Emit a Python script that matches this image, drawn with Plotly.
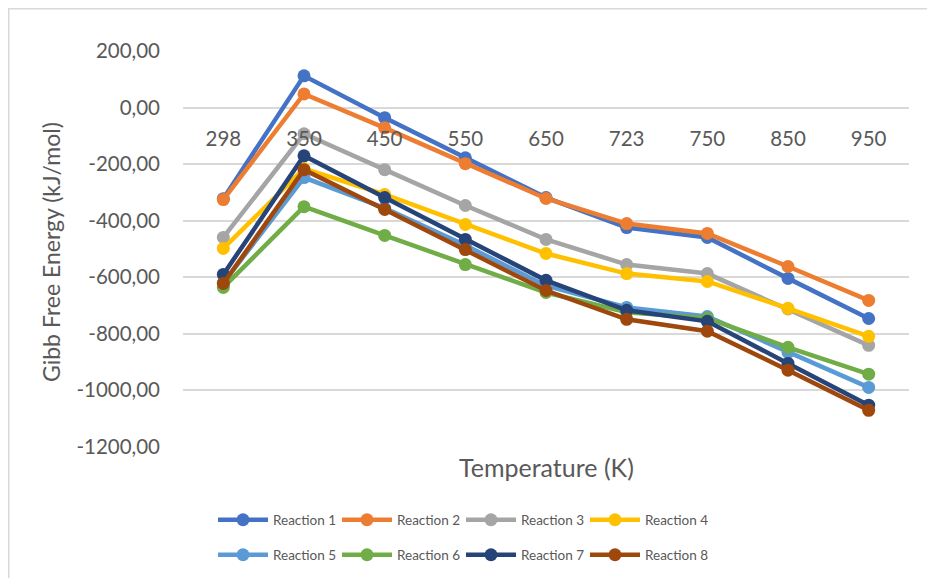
import plotly.graph_objects as go

temperatures = ["298", "350", "450", "550", "650", "723", "750", "850", "950"]

reaction_1 = [-322, 113, -35, -177, -318, -424, -459, -604, -746]
reaction_2 = [-325, 49, -71, -198, -321, -410, -445, -562, -682]
reaction_3 = [-459, -92, -219, -346, -466, -555, -587, -712, -841]
reaction_4 = [-498, -215, -307, -413, -516, -587, -615, -710, -809]
reaction_5 = [-620, -247, -355, -487, -630, -707, -739, -866, -990]
reaction_6 = [-636, -350, -452, -555, -654, -724, -745, -848, -943]
reaction_7 = [-590, -170, -318, -466, -611, -717, -756, -905, -1053]
reaction_8 = [-622, -219, -360, -502, -647, -749, -791, -929, -1071]

series_names = ["Reaction 1", "Reaction 2", "Reaction 3", "Reaction 4",
                "Reaction 5", "Reaction 6", "Reaction 7", "Reaction 8"]
series_values = [reaction_1, reaction_2, reaction_3, reaction_4,
                 reaction_5, reaction_6, reaction_7, reaction_8]
colors = ["#4472C4", "#ED7D31", "#A5A5A5", "#FFC000",
          "#5B9BD5", "#70AD47", "#264478", "#9E480E"]

y_tick_vals = [200, 0, -200, -400, -600, -800, -1000, -1200]
y_tick_text = ["200,00", "0,00", "-200,00", "-400,00", "-600,00", "-800,00", "-1000,00", "-1200,00"]

FONT = "Lato, 'Open Sans', sans-serif"
TXT = "#595959"

# page has an 8px body margin: figure coords = screen coords - 8
OFF = 8
W, H = 935, 578
L, R, T, B = 183 - OFF, 935 - 909 + OFF, 51 - OFF, 578 - 447 + OFF
pw, ph = W - L - R, H - T - B

def px_x(p):
    return (p - OFF - L) / pw

def px_y(p):
    return (H - B - (p - OFF)) / ph

fig = go.Figure()
for i, (name, vals, col) in enumerate(zip(series_names, series_values, colors)):
    fig.add_trace(go.Scatter(
        x=temperatures, y=vals, name=name, mode="lines+markers",
        line=dict(color=col, width=4.5),
        marker=dict(color=col, size=13, symbol="circle"),
        legend="legend" if i < 4 else "legend2",
    ))

ymin, ymax = -1201, 201
legend_common = dict(
    orientation="h", xanchor="left", yanchor="middle",
    entrywidth=59, entrywidthmode="pixels", itemwidth=50,
    font=dict(family=FONT, size=13.5, color=TXT), bgcolor="rgba(0,0,0,0)",
)
fig.update_layout(
    width=W, height=H,
    margin=dict(l=L, r=R, t=T, b=B),
    paper_bgcolor="white", plot_bgcolor="white",
    font=dict(family=FONT, color=TXT),
    showlegend=True,
    xaxis=dict(
        type="category", categoryorder="array", categoryarray=temperatures,
        range=[-0.5, 8.5], showgrid=False, zeroline=False, showline=False,
        ticks="", anchor="free", position=(0 - ymin) / (ymax - ymin),
        tickfont=dict(family=FONT, size=20.5, color=TXT),
        ticklabelstandoff=17,
    ),
    yaxis=dict(
        range=[ymin, ymax], tickvals=y_tick_vals, ticktext=y_tick_text,
        showgrid=True, gridcolor="#D9D9D9", gridwidth=1.5,
        zeroline=False, showline=False, ticks="",
        tickfont=dict(family=FONT, size=20.5, color=TXT),
        ticklabelstandoff=22,
    ),
    legend=dict(x=px_x(213), y=px_y(520), **legend_common),
    legend2=dict(x=px_x(213), y=px_y(555), **legend_common),
    annotations=[
        dict(text="Temperature (K)", xref="paper", yref="paper",
             x=px_x(546), y=px_y(467), xanchor="center", yanchor="middle",
             showarrow=False, font=dict(family=FONT, size=25, color=TXT)),
        dict(text="Gibb Free Energy (kJ/mol)", xref="paper", yref="paper",
             x=px_x(51), y=px_y(252), xanchor="center", yanchor="middle",
             textangle=-90, showarrow=False,
             font=dict(family=FONT, size=23, color=TXT)),
    ],
    shapes=[
        dict(type="rect", xref="paper", yref="paper",
             x0=px_x(OFF + 0.75), x1=px_x(950), y0=px_y(600), y1=px_y(OFF + 0.75),
             line=dict(color="#D9D9D9", width=1.5), fillcolor="rgba(0,0,0,0)",
             layer="below"),
    ],
)

fig.write_html("out.html")
